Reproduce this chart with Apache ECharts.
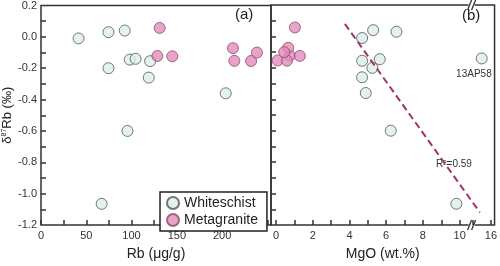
<!DOCTYPE html>
<html>
<head>
<meta charset="utf-8">
<script src="https://cdn.jsdelivr.net/npm/echarts@6/dist/echarts.min.js"></script>
<style>
  html, body { margin: 0; padding: 0; background: #fff; }
  #chart { width: 500px; height: 266px; }
</style>
</head>
<body>
<div id="chart"></div>
<script>
// whiteschist samples (same order in both panels)
var whiteDelta = [-0.01, 0.03, 0.04, -0.20, -0.145, -0.14, -0.155, -0.26, -0.36, -0.60, -1.065];
var whiteRb = [41.5, 74.5, 92.5, 74.5, 98, 104.5, 120.5, 119, 204, 95.5, 67];
var whiteMgO = [4.69, 6.56, 5.29, 5.25, 5.65, 15.5, 4.69, 4.69, 4.89, 6.25, 9.82];

// metagranite samples
var metaDelta = [0.057, -0.122, -0.124, -0.072, -0.153, -0.154, -0.10];
var metaRb = [131, 128.5, 145, 212, 213.5, 232, 238.5];
var metaMgO = [1.03, 0.76, 1.30, 0.67, 0.09, 0.60, 0.45];

// regression line in panel (b)
var trendMgO = [3.75, 15.4];
var trendDelta = [0.08, -1.12];

var yTicks = [-1.2, -1.0, -0.8, -0.6, -0.4, -0.2, 0.0, 0.2];
var rbTicks = [0, 50, 100, 150, 200];
var mgoTicks = [0, 2, 4, 6, 8, 10, 16];

function pairs(xs, ys) {
	return xs.map(function (x, i) { return [x, ys[i]]; });
}

var font = 'Liberation Sans, Arial, sans-serif';
var whiteStyle = { color: '#dcefe8', borderColor: '#555', borderWidth: 1 };
var metaStyle = { color: '#e48cba', borderColor: '#8c4a6c', borderWidth: 1 };
var tickStyle = { color: '#333', width: 1.5 };
var yMinor = [-1.1, -1.0, -0.9, -0.8, -0.7, -0.6, -0.5, -0.4, -0.3, -0.2, -0.1, 0, 0.1];

var chart = echarts.init(document.getElementById('chart'));

chart.setOption({
	animation: false,
	textStyle: { fontFamily: font },
	grid: [
		{ left: 40, top: 5, width: 231, height: 228, show: true, borderColor: '#333', borderWidth: 1.5 },
		{ left: 271, top: 5, width: 227, height: 228, show: true, borderColor: '#333', borderWidth: 1.5 }
	],
	xAxis: [
		{
			type: 'value', gridIndex: 0, min: 0, max: 254,
			name: 'Rb (μg/g)', nameLocation: 'middle', nameGap: 22,
			nameTextStyle: { fontSize: 14, color: '#222', fontFamily: font },
			axisLine: { show: false, onZero: false },
			splitLine: { show: false },
			axisTick: { inside: true, length: 5, lineStyle: tickStyle,
				customValues: [0, 25, 50, 75, 100, 125, 150, 175, 200, 225, 250] },
			axisLabel: { customValues: rbTicks, fontSize: 11, color: '#333', margin: 5 }
		},
		{
			type: 'value', gridIndex: 1, min: -0.27, max: 16.2,
			breaks: [{ start: 10.6, end: 15, gap: 0.1 }],
			breakArea: { show: false },
			name: 'MgO (wt.%)', nameLocation: 'middle', nameGap: 22,
			nameTextStyle: { fontSize: 14, color: '#222', fontFamily: font },
			axisLine: { show: false, onZero: false },
			splitLine: { show: false },
			axisTick: { inside: true, length: 5, lineStyle: tickStyle,
				customValues: [0, 1, 2, 3, 4, 5, 6, 7, 8, 9, 10, 15, 16] },
			axisLabel: { customValues: mgoTicks, fontSize: 11, color: '#333', margin: 5 }
		}
	],
	yAxis: [
		{
			type: 'value', gridIndex: 0, min: -1.2, max: 0.2,
			name: '{d|δ}{s|87}{d|Rb (‰)}', nameLocation: 'middle', nameGap: 27,
			nameTextStyle: { rich: {
				d: { fontSize: 13, color: '#222', fontFamily: font },
				s: { fontSize: 7, color: '#222', fontFamily: font, verticalAlign: 'top', padding: [0, 0, 6, 0] }
			} },
			axisLine: { show: false, onZero: false },
			splitLine: { show: false },
			axisTick: { inside: true, length: 5, lineStyle: tickStyle, customValues: yMinor },
			axisLabel: { customValues: yTicks, fontSize: 11, color: '#333', margin: 4,
				formatter: function (v) { return v.toFixed(1); } }
		},
		{
			type: 'value', gridIndex: 1, min: -1.2, max: 0.2,
			axisLine: { show: false, onZero: false },
			splitLine: { show: false },
			axisTick: { inside: true, length: 5, lineStyle: tickStyle, customValues: yMinor },
			axisLabel: { show: false }
		}
	],
	legend: {
		orient: 'vertical', left: 160, top: 192,
		data: ['Whiteschist', 'Metagranite'],
		itemWidth: 12, itemHeight: 12, itemGap: 3,
		icon: 'circle',
		backgroundColor: '#fff', borderColor: '#222', borderWidth: 1.5, borderRadius: 0,
		padding: [4, 9, 4, 6],
		textStyle: { fontSize: 14, color: '#222', fontFamily: font }
	},
	series: [
		{ name: 'Whiteschist', type: 'scatter', xAxisIndex: 0, yAxisIndex: 0,
			symbolSize: 11, itemStyle: whiteStyle, data: pairs(whiteRb, whiteDelta) },
		{ name: 'Metagranite', type: 'scatter', xAxisIndex: 0, yAxisIndex: 0,
			symbolSize: 11, itemStyle: metaStyle, data: pairs(metaRb, metaDelta) },
		{ name: 'trend', type: 'line', xAxisIndex: 1, yAxisIndex: 1, symbol: 'none',
			lineStyle: { color: '#a3306f', width: 2, type: [7, 4] },
			data: pairs(trendMgO, trendDelta) },
		{ name: 'Whiteschist', type: 'scatter', xAxisIndex: 1, yAxisIndex: 1,
			symbolSize: 11, itemStyle: whiteStyle, data: pairs(whiteMgO, whiteDelta) },
		{ name: 'Metagranite', type: 'scatter', xAxisIndex: 1, yAxisIndex: 1,
			symbolSize: 11, itemStyle: metaStyle, data: pairs(metaMgO, metaDelta) }
	]
});

// panel labels and the "//" marks on the broken axis
var brk = (chart.convertToPixel({ xAxisIndex: 1 }, 10.6) + chart.convertToPixel({ xAxisIndex: 1 }, 15)) / 2;
var yTop = chart.convertToPixel({ yAxisIndex: 1 }, 0.2);
var yBot = chart.convertToPixel({ yAxisIndex: 1 }, -1.2);
var tag = chart.convertToPixel({ xAxisIndex: 1, yAxisIndex: 1 }, [15.5, -0.14]);

function breakMark(y) {
	return {
		type: 'group', x: brk, y: y, children: [
			{ type: 'rect', shape: { x: -3, y: -2, width: 6, height: 4 }, style: { fill: '#fff' } },
			{ type: 'line', shape: { x1: -4, y1: 5, x2: 0, y2: -5 }, style: { stroke: '#333', lineWidth: 1.3 } },
			{ type: 'line', shape: { x1: 0, y1: 5, x2: 4, y2: -5 }, style: { stroke: '#333', lineWidth: 1.3 } }
		]
	};
}

chart.setOption({
	graphic: [
		breakMark(yTop),
		breakMark(yBot),
		{ type: 'text', left: 235, top: 7, style: { text: '(a)', fontSize: 15, fill: '#222', fontFamily: font } },
		{ type: 'text', left: 462, top: 8, style: { text: '(b)', fontSize: 15, fill: '#222', fontFamily: font } },
		{ type: 'text', x: tag[0] + 10, y: tag[1] + 11, style: { text: '13AP58', fontSize: 10, fill: '#333', fontFamily: font, textAlign: 'right' } },
		{ type: 'text', left: 436, top: 159, style: { text: 'R²=0.59', fontSize: 10, fill: '#333', fontFamily: font } }
	]
});
</script>
</body>
</html>
